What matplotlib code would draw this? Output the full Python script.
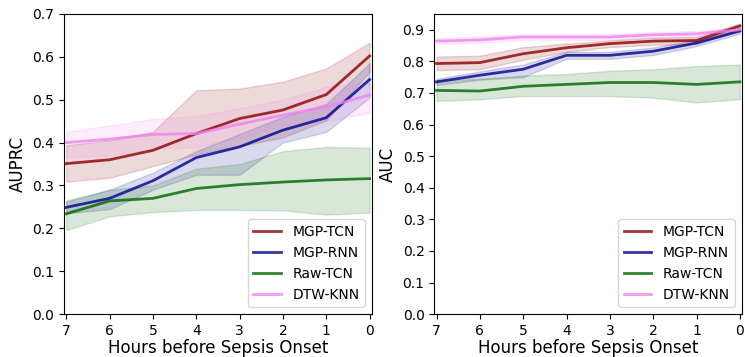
import numpy as np
import matplotlib
matplotlib.use("Agg")
import matplotlib.pyplot as plt

hours = [7, 6, 5, 4, 3, 2, 1, 0]
models = ["MGP-TCN", "MGP-RNN", "Raw-TCN", "DTW-KNN"]
colors = ["darkred", "darkblue", "darkgreen", "violet"]

# AUPRC: mean, lower, upper per model
auprc_mean = {
    "MGP-TCN": [0.351, 0.360, 0.382, 0.421, 0.456, 0.476, 0.512, 0.602],
    "MGP-RNN": [0.249, 0.270, 0.311, 0.365, 0.390, 0.429, 0.458, 0.547],
    "Raw-TCN": [0.234, 0.264, 0.270, 0.293, 0.302, 0.308, 0.313, 0.316],
    "DTW-KNN": [0.400, 0.408, 0.419, 0.421, 0.443, 0.464, 0.483, 0.511],
}
auprc_low = {
    "MGP-TCN": [0.309, 0.318, 0.345, 0.372, 0.392, 0.412, 0.452, 0.565],
    "MGP-RNN": [0.235, 0.245, 0.290, 0.325, 0.325, 0.400, 0.425, 0.505],
    "Raw-TCN": [0.196, 0.228, 0.238, 0.243, 0.243, 0.242, 0.232, 0.237],
    "DTW-KNN": [0.365, 0.370, 0.385, 0.390, 0.410, 0.440, 0.450, 0.470],
}
auprc_high = {
    "MGP-TCN": [0.394, 0.405, 0.425, 0.522, 0.526, 0.542, 0.573, 0.633],
    "MGP-RNN": [0.262, 0.290, 0.330, 0.380, 0.420, 0.460, 0.490, 0.585],
    "Raw-TCN": [0.265, 0.290, 0.300, 0.339, 0.350, 0.380, 0.390, 0.388],
    "DTW-KNN": [0.425, 0.440, 0.455, 0.462, 0.480, 0.500, 0.530, 0.540],
}

# AUC
auc_mean = {
    "MGP-TCN": [0.793, 0.796, 0.824, 0.843, 0.856, 0.864, 0.866, 0.912],
    "MGP-RNN": [0.735, 0.756, 0.775, 0.819, 0.819, 0.832, 0.858, 0.896],
    "Raw-TCN": [0.708, 0.706, 0.721, 0.727, 0.733, 0.733, 0.727, 0.735],
    "DTW-KNN": [0.864, 0.868, 0.877, 0.877, 0.877, 0.884, 0.887, 0.900],
}
auc_low = {
    "MGP-TCN": [0.772, 0.775, 0.805, 0.830, 0.845, 0.852, 0.855, 0.902],
    "MGP-RNN": [0.725, 0.742, 0.750, 0.808, 0.808, 0.820, 0.848, 0.888],
    "Raw-TCN": [0.675, 0.680, 0.690, 0.690, 0.690, 0.685, 0.670, 0.680],
    "DTW-KNN": [0.855, 0.858, 0.868, 0.868, 0.868, 0.875, 0.878, 0.892],
}
auc_high = {
    "MGP-TCN": [0.815, 0.818, 0.845, 0.856, 0.866, 0.875, 0.877, 0.920],
    "MGP-RNN": [0.745, 0.768, 0.790, 0.830, 0.830, 0.844, 0.868, 0.905],
    "Raw-TCN": [0.740, 0.745, 0.755, 0.760, 0.770, 0.775, 0.785, 0.790],
    "DTW-KNN": [0.874, 0.878, 0.886, 0.886, 0.886, 0.893, 0.896, 0.908],
}


def draw(ax, mean, low, high, ylabel, ylim):
    for name, c in zip(models, colors):
        ax.fill_between(hours, low[name], high[name], color=c, alpha=0.15, linewidth=1)
        ax.plot(hours, mean[name], color=c, alpha=0.8, linewidth=2, label=name)
    ax.set_xlim(7.05, -0.05)
    ax.set_ylim(*ylim)
    ax.set_xticks(hours)
    ax.set_yticks(np.round(np.arange(0, ylim[1] + 0.001, 0.1), 1))
    ax.set_xlabel("Hours before Sepsis Onset", fontsize=12, labelpad=1)
    ax.set_ylabel(ylabel, fontsize=12)
    ax.tick_params(labelsize=10)
    ax.legend(loc="lower right", fontsize=10)


fig = plt.figure(figsize=(7.45, 3.57), dpi=100)
ax1 = fig.add_axes([0.086, 0.12, 0.413, 0.841])
ax2 = fig.add_axes([0.583, 0.12, 0.413, 0.841])
draw(ax1, auprc_mean, auprc_low, auprc_high, "AUPRC", (0, 0.7))
draw(ax2, auc_mean, auc_low, auc_high, "AUC", (0, 0.95))
fig.savefig("out.png", dpi=100)
